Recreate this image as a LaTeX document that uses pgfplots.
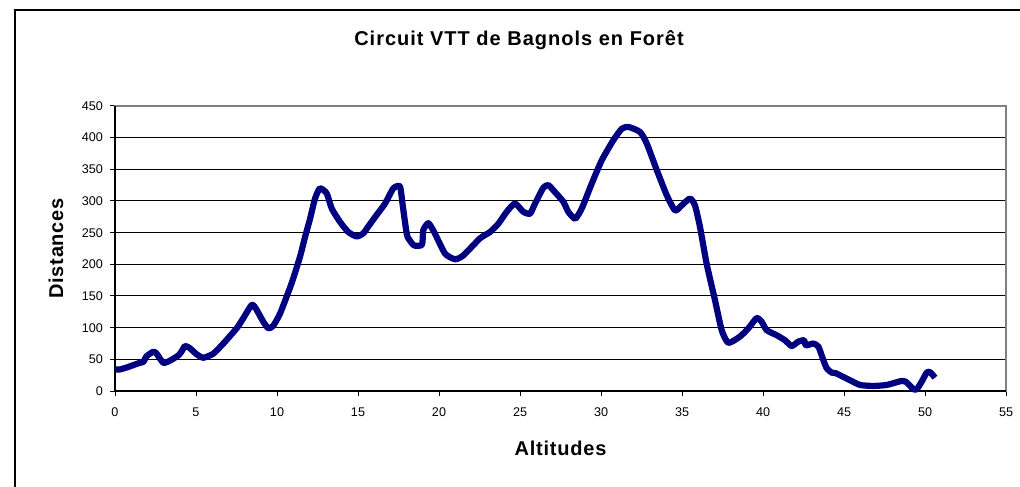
\documentclass[border=0pt]{standalone}
\usepackage{pgfplots}
\pgfplotsset{compat=1.18}
\usepackage{fontspec}
\setmainfont{Liberation Sans}
\newfontfamily\titlefont[LetterSpace=5]{Liberation Sans}
\newfontfamily\labelfont[LetterSpace=4]{Liberation Sans}
\definecolor{navyline}{RGB}{0,0,128}
\begin{document}
\begin{tikzpicture}
\useasboundingbox (-57.5pt,-47.5pt) rectangle (452.5pt,195.5pt);
\draw[black, line width=0.7pt] (-50pt,-80pt) -- (-50pt,190.5pt) -- (480pt,190.5pt);
\begin{axis}[
  at={(0,0)}, anchor=south west,
  scale only axis,
  width=445.5pt, height=142.5pt,
  xmin=0, xmax=55, ymin=0, ymax=450,
  xtick={0,5,...,55}, ytick={0,50,...,450},
  ymajorgrids,
  y grid style={black, line width=0.5pt},
  axis line style={gray, line width=0.7pt},
  tick style={black, line width=0.5pt},
  tick align=outside, tick pos=left,
  major tick length=2.5pt,
  /pgf/number format/assume math mode=true,
  ticklabel style={font=\fontsize{6.3pt}{7pt}\selectfont},
  xticklabel style={yshift=-2.5pt},
  clip=false,
]
\draw[black, line width=0.6pt] (rel axis cs:0,1) -- (rel axis cs:0,0) -- (rel axis cs:1,0);
\addplot[navyline, line width=3.1pt, line join=round, smooth, tension=0.35] coordinates {
(0,34) (0.3,34) (0.82,38) (1.54,44.6) (1.75,46) (1.95,55) (2.37,62) (2.57,59)
(2.98,44.6) (3.4,48) (3.9,56) (4.1,62) (4.32,71) (4.6,68) (5.04,58) (5.45,52.5)
(6.07,59) (6.69,75) (7.51,99) (7.92,115) (8.44,136) (8.7,130) (9.16,109) (9.47,99)
(9.77,103) (10.2,123) (10.9,170) (11.42,212) (11.73,243) (12.04,272) (12.35,304)
(12.65,320) (13.07,312) (13.38,288) (13.89,267) (14.4,251) (14.92,244) (15.33,249)
(15.64,260) (16.15,278) (16.67,296) (17.18,320) (17.59,323) (17.75,295) (17.9,267)
(18.05,244) (18.45,230) (18.95,231) (19.03,254) (19.34,265) (19.7,251) (20.37,217)
(20.99,208) (21.5,214) (22.53,241) (23.15,251) (23.66,264) (24.18,283) (24.69,296)
(25.2,283) (25.62,280) (25.93,296) (26.44,321) (26.75,325) (27.16,314) (27.67,299)
(27.98,283) (28.4,272) (28.81,288) (29.42,327) (30.04,364) (30.76,396) (31.28,414)
(31.69,417) (32.41,409) (32.82,391) (33.44,349) (34.06,309) (34.57,285) (34.98,293)
(35.49,304) (35.8,293) (36.11,259) (36.52,201) (37.04,143) (37.45,96) (37.86,76)
(38.58,86) (39.1,99) (39.6,115) (39.9,110) (40.23,96) (40.85,88) (41.36,80)
(41.77,71) (42.18,78) (42.53,80) (42.65,72) (43.1,75) (43.42,70) (43.72,49)
(43.93,36) (44.24,29) (44.5,28) (45.37,17) (45.99,9.5) (46.8,8) (47.63,9.5)
(48.56,16) (48.8,15) (49.28,3) (49.5,3) (49.8,15) (50.1,29) (50.3,30) (50.62,21)
};
\end{axis}
\node[font=\titlefont\bfseries\fontsize{10pt}{12pt}\selectfont] at (202pt,175.5pt) {Circuit VTT de Bagnols en Forêt};
\node[font=\labelfont\bfseries\fontsize{10pt}{12pt}\selectfont, rotate=90] at (-29.5pt,71.25pt) {Distances};
\node[font=\labelfont\bfseries\fontsize{10pt}{12pt}\selectfont] at (222.75pt,-28.5pt) {Altitudes};
\end{tikzpicture}
\end{document}
